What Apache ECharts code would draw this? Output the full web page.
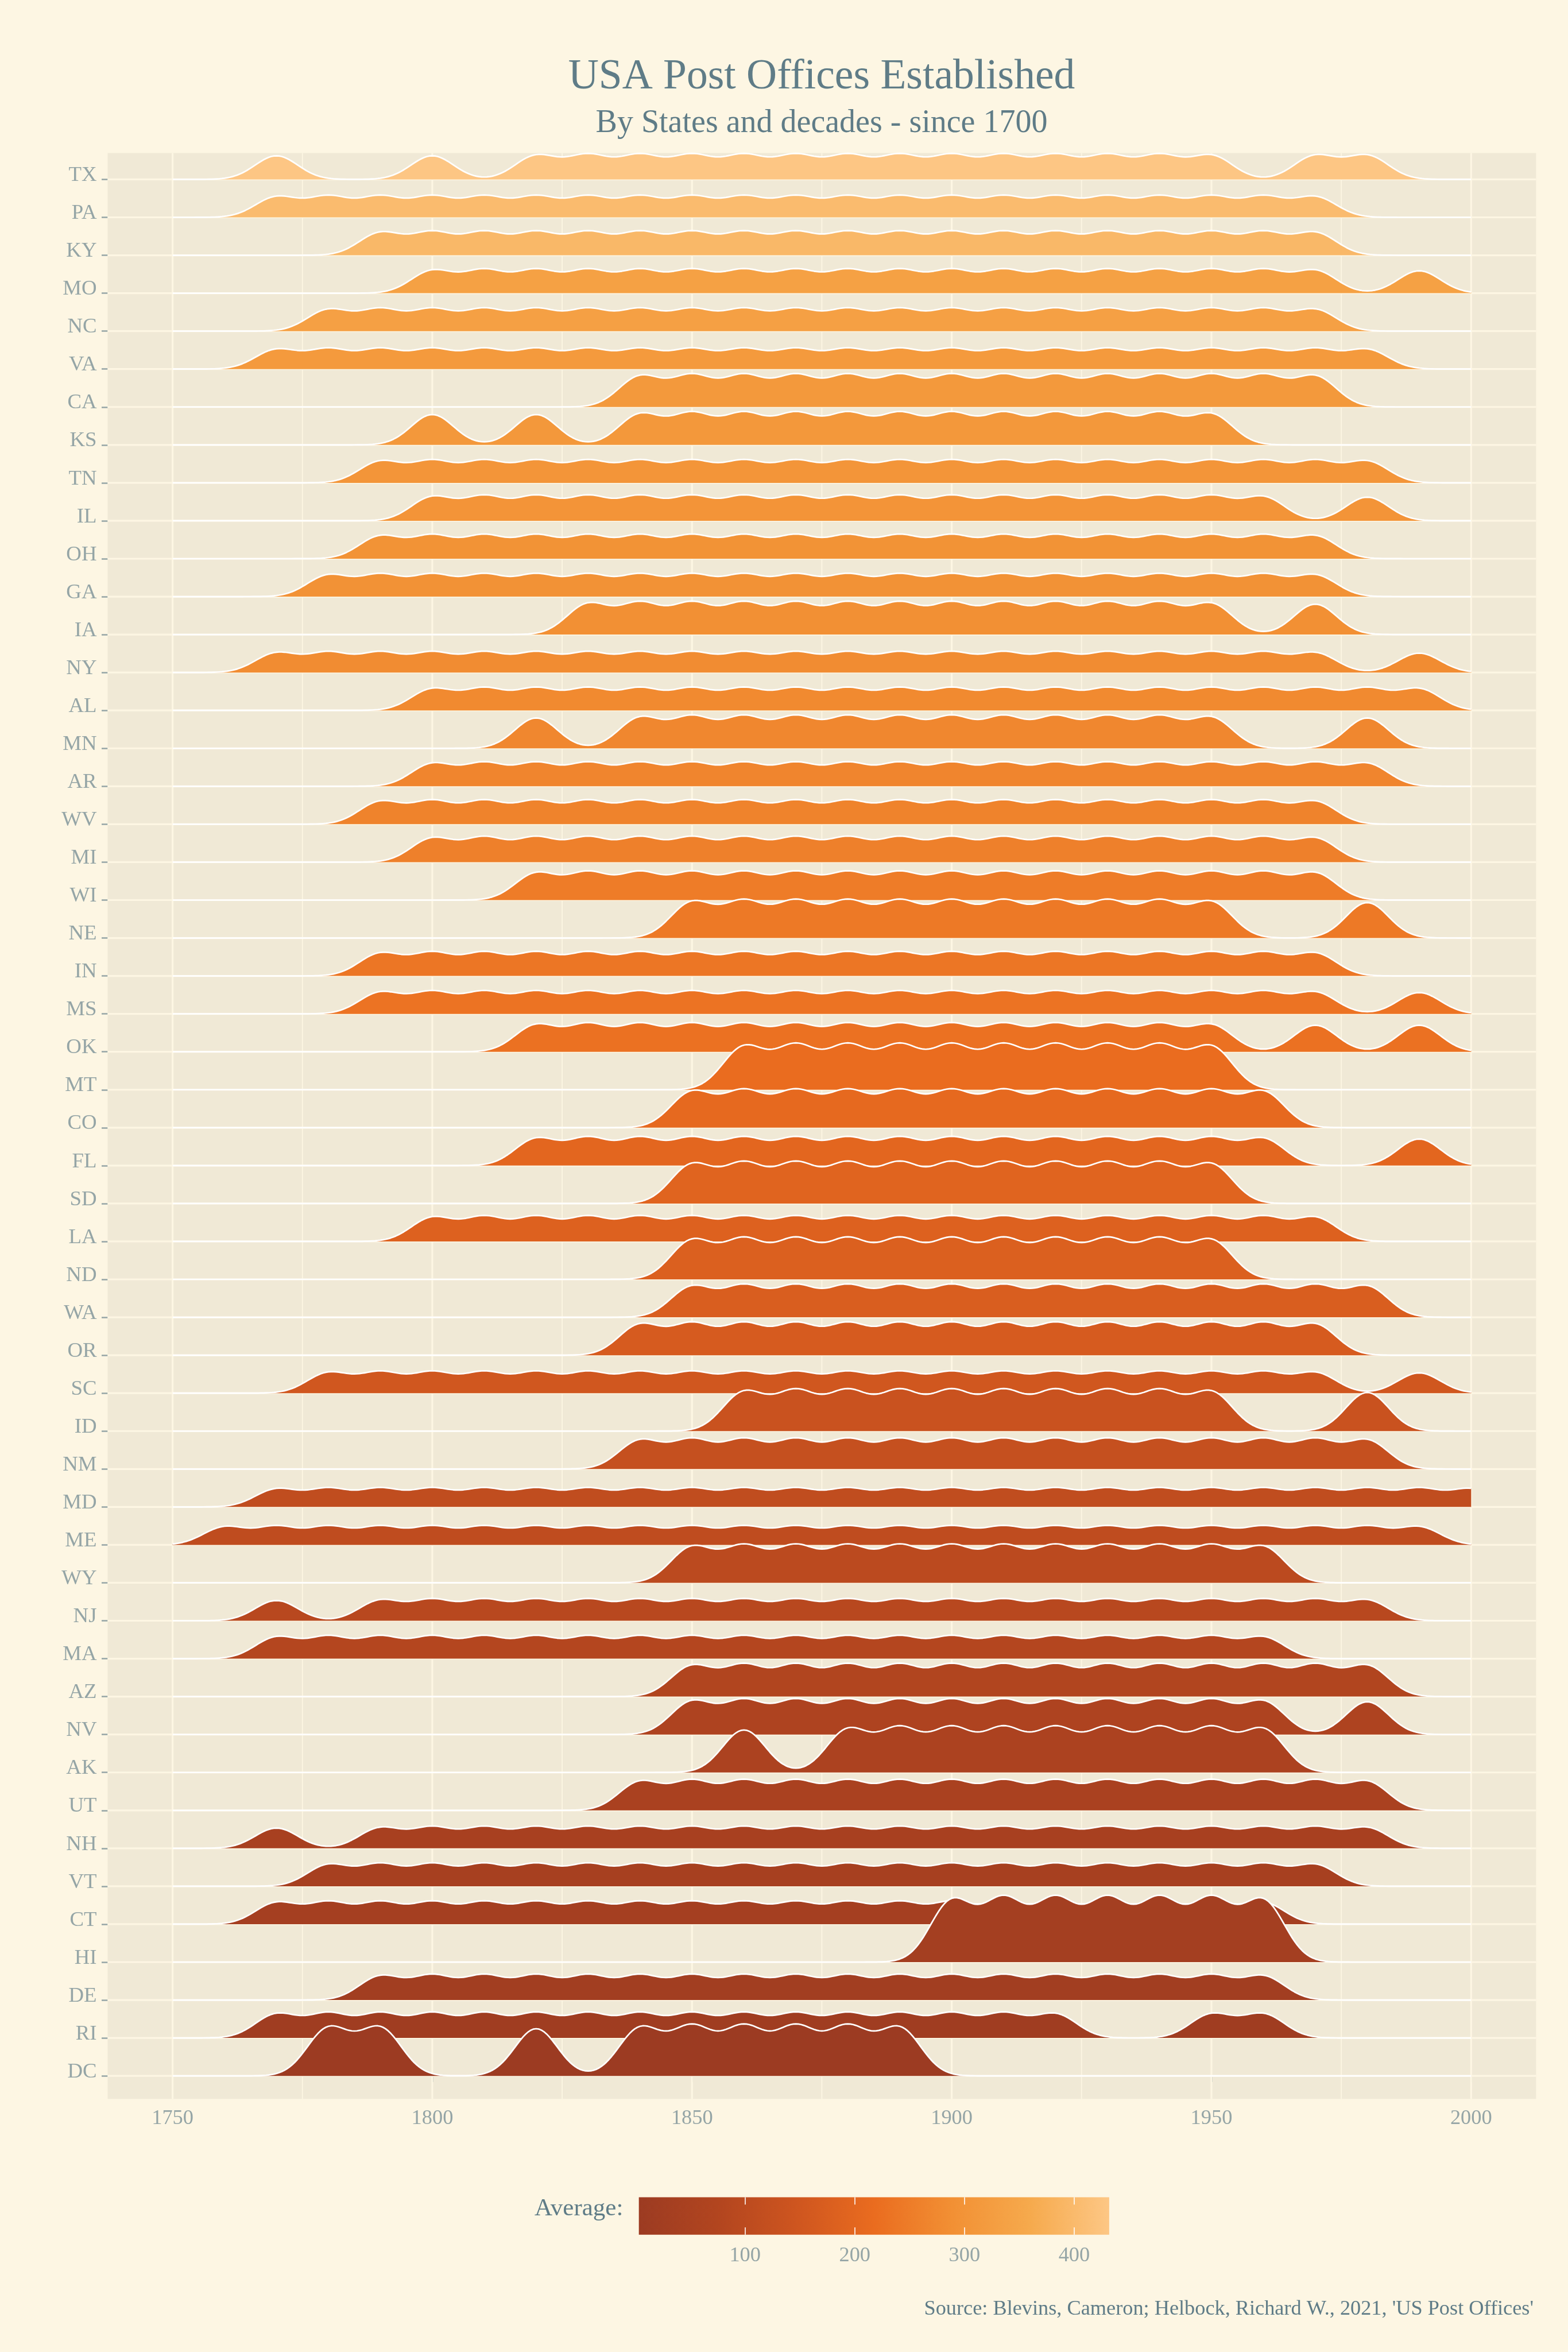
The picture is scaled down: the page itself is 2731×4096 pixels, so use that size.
<!DOCTYPE html>
<html>
<head>
<meta charset="utf-8">
<script src="https://cdn.jsdelivr.net/npm/echarts@6/dist/echarts.min.js"></script>
<style>
html,body{margin:0;padding:0;background:#FDF6E3;}
#chart{width:2731px;height:4096px;}
</style>
</head>
<body>
<div id="chart"></div>
<script>
// ---------------- data ----------------
const states = ['TX','PA','KY','MO','NC','VA','CA','KS','TN','IL','OH','GA','IA','NY','AL','MN','AR','WV','MI','WI','NE','IN','MS','OK','MT','CO','FL','SD','LA','ND','WA','OR','SC','ID','NM','MD','ME','WY','NJ','MA','AZ','NV','AK','UT','NH','VT','CT','HI','DE','RI','DC'];

// average number of post offices established per decade (fill colour)
const averages = [430,402,395,335,334,316,313,310,303,300,296,294,290,281,277,271,267,263,257,249,243,237,231,228,217,207,200,192,184,179,174,166,151,133,123,110,108,98,90,80,72,62,55,49,42,39,33,29,23,16,3.2];

// decades in which post offices were established ("a-b" = every decade from a to b)
const decadeSpans = [
  '1770 1800 1820-1950 1970 1980', // TX
  '1770-1970',                     // PA
  '1790-1970',                     // KY
  '1800-1970 1990',                // MO
  '1780-1970',                     // NC
  '1770-1980',                     // VA
  '1840-1970',                     // CA
  '1800 1820 1840-1950',           // KS
  '1790-1980',                     // TN
  '1800-1960 1980',                // IL
  '1790-1970',                     // OH
  '1780-1970',                     // GA
  '1830-1950 1970',                // IA
  '1770-1970 1990',                // NY
  '1800-1990',                     // AL
  '1820 1840-1950 1980',           // MN
  '1800-1980',                     // AR
  '1790-1970',                     // WV
  '1800-1970',                     // MI
  '1820-1970',                     // WI
  '1850-1950 1980',                // NE
  '1790-1970',                     // IN
  '1790-1970 1990',                // MS
  '1820-1950 1970 1990',           // OK
  '1860-1950',                     // MT
  '1850-1960',                     // CO
  '1820-1960 1990',                // FL
  '1850-1950',                     // SD
  '1800-1970',                     // LA
  '1850-1950',                     // ND
  '1850-1980',                     // WA
  '1840-1970',                     // OR
  '1780-1970 1990',                // SC
  '1860-1950 1980',                // ID
  '1840-1980',                     // NM
  '1770-2000',                     // MD
  '1760-1990',                     // ME
  '1850-1960',                     // WY
  '1770 1790-1980',                // NJ
  '1770-1960',                     // MA
  '1850-1980',                     // AZ
  '1850-1960 1980',                // NV
  '1860 1880-1960',                // AK
  '1840-1980',                     // UT
  '1770 1790-1980',                // NH
  '1780-1970',                     // VT
  '1770-1960',                     // CT
  '1900-1960',                     // HI
  '1790-1960',                     // DE
  '1770-1920 1950 1960',           // RI
  '1780 1790 1820 1840-1890'       // DC
];

const xTickValues = [1750, 1800, 1850, 1900, 1950, 2000];
const xGridValues = [1750, 1775, 1800, 1825, 1850, 1875, 1900, 1925, 1950, 1975, 2000];
const legendTicks = [100, 200, 300, 400];
const colourRamp = ['#9C3B22', '#B2451F', '#CE551F', '#EA6C1F', '#F29034', '#F6AA4D', '#FDC785'];
const avgMin = 3.2, avgMax = 431.9;

// ---------------- density ridges (gaussian kernel over the decades) ----------------
const BW = 4.1;          // kernel bandwidth, years
const K = 115.1;         // ridge scale: row heights per unit of density
const xs = [];
for (let x = 1750; x <= 2000.0001; x += 0.5) xs.push(x);
function parseSpan(s) {
  const out = [];
  s.split(' ').forEach(p => {
    if (p.indexOf('-') > 0) {
      const ab = p.split('-').map(Number);
      for (let d = ab[0]; d <= ab[1]; d += 10) out.push(d);
    } else out.push(Number(p));
  });
  return out;
}
const decadeLists = decadeSpans.map(parseSpan);
const kNorm = BW * Math.sqrt(2 * Math.PI);
const ridgeHeights = decadeLists.map(ds => xs.map(x => {
  let s = 0;
  for (const d of ds) { const z = (x - d) / BW; s += Math.exp(-0.5 * z * z); }
  return s / (ds.length * kNorm) * K;
}));

const N = states.length;
const FONT = 'Liberation Serif';
const TITLE_COL = '#5F7C87';
const AXIS_COL = '#95A5A6';
const GRID_COL = '#FDF6E3';

const chart = echarts.init(document.getElementById('chart'), null, {renderer: 'canvas'});

const option = {
  backgroundColor: '#FDF6E3',
  animation: false,
  title: [
    {text: 'USA Post Offices Established', left: 1431, top: 98, textAlign: 'center', padding: 0,
     textStyle: {fontFamily: FONT, fontSize: 73.5, lineHeight: 73.5, fontWeight: 'normal', color: TITLE_COL}},
    {text: 'By States and decades - since 1700', left: 1431, top: 187, textAlign: 'center', padding: 0,
     textStyle: {fontFamily: FONT, fontSize: 56, lineHeight: 56, fontWeight: 'normal', color: TITLE_COL}}
  ],
  graphic: [
    {type: 'text', right: 60, top: 4003,
     style: {text: "Source: Blevins, Cameron; Helbock, Richard W., 2021, 'US Post Offices'",
             font: '36.3px "Liberation Serif"', lineHeight: 36.3, fill: TITLE_COL}},
    {type: 'text', left: 931, top: 3825,
     style: {text: 'Average:', font: '43px "Liberation Serif"', lineHeight: 43, fill: TITLE_COL}}
  ],
  grid: [
    {left: 187.5, top: 266.4, width: 2487.9, height: 3388.8, show: true, backgroundColor: '#F0E9D6', borderWidth: 0, containLabel: false, outerBoundsMode: 'none'},
    {left: 1112.7, top: 3826.6, width: 819.2, height: 65.2, show: false, containLabel: false, outerBoundsMode: 'none'}
  ],
  xAxis: [
    {type: 'value', gridIndex: 0, min: 1737.5, max: 2012.5,
     axisLine: {show: false}, splitLine: {show: false},
     axisTick: {show: true, length: 10.5, customValues: xTickValues, lineStyle: {color: AXIS_COL, width: 2.5}},
     axisLabel: {show: true, customValues: xTickValues, margin: 16, color: AXIS_COL,
                 fontFamily: FONT, fontSize: 36.4, lineHeight: 36.4, formatter: v => String(v)}},
    {type: 'value', gridIndex: 1, min: avgMin, max: avgMax, position: 'bottom', z: 10,
     axisLine: {show: false}, splitLine: {show: false},
     axisTick: {show: true, inside: true, length: 12.7, customValues: legendTicks, lineStyle: {color: '#FFFFFF', width: 1.6}},
     axisLabel: {show: true, customValues: legendTicks, margin: 18, color: AXIS_COL,
                 fontFamily: FONT, fontSize: 36.4, lineHeight: 36.4, formatter: v => String(v)}},
    {type: 'value', gridIndex: 1, min: avgMin, max: avgMax, position: 'top', z: 10,
     axisLine: {show: false}, splitLine: {show: false},
     axisTick: {show: true, inside: true, length: 12.7, customValues: legendTicks, lineStyle: {color: '#FFFFFF', width: 1.6}},
     axisLabel: {show: false}}
  ],
  yAxis: [
    {type: 'value', gridIndex: 0, min: -0.606, max: 50.697,
     axisLine: {show: false}, splitLine: {show: false},
     axisTick: {show: true, length: 10.5, customValues: states.map((s, i) => i), lineStyle: {color: AXIS_COL, width: 2.5}},
     axisLabel: {show: true, customValues: states.map((s, i) => i), margin: 19, color: AXIS_COL,
                 fontFamily: FONT, fontSize: 36.8, lineHeight: 14, verticalAlign: 'bottom',
                 formatter: v => states[N - 1 - Math.round(v)]}},
    {type: 'value', gridIndex: 1, min: 0, max: 1, show: false}
  ],
  visualMap: [
    {type: 'continuous', show: false, seriesIndex: 2, dimension: 1, min: avgMin, max: avgMax,
     inRange: {color: colourRamp}}
  ],
  series: [
    { // vertical panel grid lines
      type: 'custom', xAxisIndex: 0, yAxisIndex: 0, z: 1, silent: true,
      data: xGridValues.map(v => [v, 0]),
      renderItem: (params, api) => {
        const cs = params.coordSys;
        const v = api.value(0);
        const x = api.coord([v, 0])[0];
        return {type: 'line', shape: {x1: x, y1: cs.y, x2: x, y2: cs.y + cs.height},
                style: {stroke: GRID_COL, lineWidth: v % 50 === 0 ? 3.2 : 1.8}};
      }
    },
    { // horizontal panel grid lines, one per state
      type: 'custom', xAxisIndex: 0, yAxisIndex: 0, z: 1, silent: true,
      data: states.map((s, i) => [1750, i]),
      renderItem: (params, api) => {
        const cs = params.coordSys;
        const y = api.coord([1750, api.value(1)])[1];
        return {type: 'line', shape: {x1: cs.x, y1: y, x2: cs.x + cs.width, y2: y},
                style: {stroke: GRID_COL, lineWidth: 3.2}};
      }
    },
    { // density ridges, drawn top (TX) to bottom (DC)
      type: 'custom', name: 'Average', xAxisIndex: 0, yAxisIndex: 0, z: 2,
      encode: {x: 0, y: 0},
      data: states.map((s, i) => ({value: [N - 1 - i, averages[i]], name: s})),
      renderItem: (params, api) => {
        const i = params.dataIndex;
        const base = api.value(0);
        const h = ridgeHeights[i];
        const pts = xs.map((x, k) => api.coord([x, base + h[k]]));
        const poly = pts.concat([api.coord([2000, base]), api.coord([1750, base])]);
        return {type: 'group', children: [
          {type: 'polygon', shape: {points: poly}, style: {fill: api.visual('color')}},
          {type: 'polyline', shape: {points: pts},
           style: {stroke: '#FFFFFF', lineWidth: 2.7, fill: null, lineJoin: 'round'}}
        ]};
      }
    },
    { // colour bar of the legend
      type: 'custom', xAxisIndex: 1, yAxisIndex: 1, z: 2, silent: true,
      data: [[avgMin, 0, avgMax, 1]],
      encode: {x: [0, 2], y: [1, 3]},
      renderItem: (params, api) => {
        const p0 = api.coord([api.value(0), api.value(3)]);
        const p1 = api.coord([api.value(2), api.value(1)]);
        const stops = colourRamp.map((c, k) => ({offset: k / (colourRamp.length - 1), color: c}));
        return {type: 'rect', shape: {x: p0[0], y: p0[1], width: p1[0] - p0[0], height: p1[1] - p0[1]},
                style: {fill: new echarts.graphic.LinearGradient(0, 0, 1, 0, stops)}};
      }
    }
  ]
};
chart.setOption(option);
</script>
</body>
</html>
